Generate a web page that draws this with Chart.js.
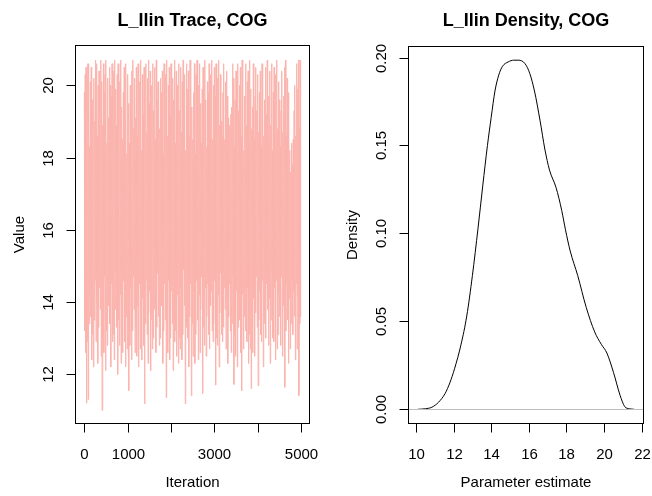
<!DOCTYPE html>
<html>
<head>
<meta charset="utf-8">
<script src="https://cdn.jsdelivr.net/npm/chart.js@4"></script>
<style>
  html, body { margin: 0; padding: 0; background: #ffffff; }
  #wrap { position: relative; width: 652px; height: 496px; }
  canvas { position: absolute; left: 0; top: 0; }
</style>
</head>
<body>
<div id="wrap">
  <canvas id="trace" width="652" height="496"></canvas>
  <canvas id="density" width="652" height="496"></canvas>
</div>
<script>
// ---- Trace panel data (thinned: one value every traceThin iterations) ----
const traceThin = 10;
const traceValues = [
  19.8,13.2,20.3,12.6,20.5,11.2,19.9,12.9,20.6,11.3,20.6,13.4,18.3,14.2,20.1,13.6,20.5,12.4,19.6,13.1,
  18.8,12.2,20.2,13.5,19.0,14.6,20.7,12.9,20.6,14.0,18.6,12.3,20.0,13.3,20.4,14.4,19.3,13.8,20.7,12.5,
  20.1,11.0,18.9,13.0,20.6,12.6,19.8,14.7,20.3,12.1,20.7,13.2,18.4,12.8,20.2,13.9,19.1,14.3,20.5,13.4,
  20.0,12.2,19.7,14.5,20.6,12.9,18.2,13.1,20.4,12.4,20.7,13.8,19.9,14.8,18.9,13.3,20.3,12.0,20.6,13.5,
  18.7,12.8,20.1,14.2,20.7,12.3,19.4,13.7,18.5,12.6,19.8,14.6,20.5,12.9,19.0,12.2,20.6,13.6,18.1,12.7,
  20.3,13.1,19.5,11.55,18.4,12.8,20.0,14.4,19.3,12.4,20.4,13.2,20.7,14.7,18.8,13.8,20.2,12.6,19.1,13.3,
  20.5,12.5,18.6,13.9,20.6,12.2,19.4,14.5,20.1,12.7,20.7,13.6,18.2,12.4,20.3,14.1,19.2,12.8,20.5,11.18,
  19.8,13.4,20.6,14.6,18.7,13.1,20.2,12.3,20.7,13.7,19.5,14.3,20.4,12.1,18.3,13.5,20.0,12.7,20.6,13.0,
  19.3,14.4,20.5,13.8,18.5,12.6,20.7,13.3,19.6,14.8,20.1,13.6,19.4,12.8,18.8,13.0,20.2,14.2,19.8,13.9,
  20.4,12.3,18.1,13.2,20.6,14.5,19.7,13.5,20.3,11.35,20.7,13.1,18.6,12.6,20.0,14.6,20.5,12.4,19.2,13.0,
  20.6,14.3,18.9,13.4,20.2,12.1,19.6,14.7,20.7,12.9,18.4,13.2,20.4,12.5,20.0,14.2,18.8,12.3,20.6,13.0,
  19.3,12.7,20.5,14.4,18.7,12.4,20.1,13.1,20.7,14.9,19.5,13.9,20.3,11.18,18.2,13.3,20.6,14.1,19.9,13.0,
  20.4,12.2,18.6,13.6,20.7,14.5,20.2,11.4,19.4,13.4,18.5,12.5,19.8,14.3,20.6,12.3,18.1,13.1,20.3,14.6,
  20.7,13.5,18.7,12.4,20.0,14.2,20.6,12.6,19.5,13.8,18.4,14.7,19.9,11.47,20.5,13.3,18.9,12.8,20.7,14.4,
  19.6,12.5,18.3,13.6,20.1,14.5,19.8,13.1,20.6,12.7,18.8,13.9,20.3,14.3,20.7,13.2,18.5,12.9,20.0,13.4,
  20.5,14.6,19.7,11.7,20.6,13.0,18.4,12.8,20.2,14.2,20.7,12.2,18.9,13.7,20.3,14.8,19.0,13.1,18.6,12.9,
  19.8,13.3,20.6,14.4,18.5,13.8,20.1,12.7,20.4,14.1,19.7,12.3,19.1,13.6,18.8,14.5,18.9,13.2,19.2,12.6,
  19.4,13.4,20.6,14.7,20.2,11.72,18.3,13.1,19.6,12.5,20.4,14.3,18.7,12.2,20.6,13.3,19.3,14.6,20.0,13.5,
  20.5,12.6,18.6,11.54,20.7,14.2,19.5,12.7,18.2,13.6,19.7,14.8,20.6,13.2,18.9,12.9,20.1,14.4,20.4,12.3,
  18.4,13.1,20.7,12.7,19.9,11.6,18.8,14.5,19.4,12.6,20.6,14.1,18.5,12.5,19.7,13.7,20.5,14.7,19.3,13.3,
  20.3,11.68,18.7,13.5,19.8,14.3,20.4,13.1,18.3,12.9,20.6,14.6,19.9,12.2,18.6,13.4,19.6,14.2,20.5,13.0,
  19.2,14.5,20.7,13.8,18.4,12.8,19.7,14.1,20.4,12.3,18.9,13.5,20.6,14.8,18.2,13.0,19.8,12.9,20.5,14.4,
  18.5,12.4,20.3,14.6,20.7,12.7,18.8,13.1,20.1,14.3,19.6,13.6,18.3,12.8,19.3,14.7,20.4,12.5,18.7,13.9,
  19.7,14.2,20.5,11.64,20.7,13.2,18.6,14.5,20.2,13.5,19.8,12.3,19.0,14.1,18.2,12.7,17.6,13.4,18.4,14.6,
  17.8,13.1,18.5,14.3,19.3,13.6,20.0,12.4,18.6,14.5,20.6,12.7,19.9,14.2,20.7,11.41,18.8,13.4,20.7,13.6
];
const traceXTicks = [0, 1000, 2000, 3000, 4000, 5000];
const traceXTickLabels = ['0', '1000', '', '3000', '', '5000'];
const traceYTicks = [12, 14, 16, 18, 20];
const traceYTickLabels = ['12', '14', '16', '18', '20'];

// ---- Density panel data ----
const densityX = [10.1, 10.5, 10.85, 11.2, 11.55, 11.8, 12.05, 12.4, 12.7, 13.0, 13.3, 13.55, 13.8, 14.0, 14.2, 14.4, 14.6, 14.9, 15.2, 15.45, 15.8, 16.05, 16.3, 16.6, 16.85, 17.1, 17.45, 17.75, 17.95, 18.2, 18.6, 19.05, 19.5, 19.85, 20.15, 20.5, 20.85, 21.1, 21.35, 21.6];
const densityY = [0, 0.0003, 0.0012, 0.004, 0.009, 0.015, 0.023, 0.037, 0.053, 0.076, 0.103, 0.127, 0.150, 0.166, 0.181, 0.190, 0.195, 0.1975, 0.1985, 0.1985, 0.1965, 0.191, 0.181, 0.164, 0.148, 0.136, 0.126, 0.113, 0.102, 0.090, 0.076, 0.058, 0.044, 0.037, 0.032, 0.021, 0.008, 0.0015, 0.0003, 0];
const densityXTicks = [10, 12, 14, 16, 18, 20, 22];
const densityXTickLabels = ['10', '12', '14', '16', '18', '20', '22'];
const densityYTicks = [0, 0.05, 0.10, 0.15, 0.20];
const densityYTickLabels = ['0.00', '0.05', '0.10', '0.15', '0.20'];

const FONT = '"Liberation Sans", Arial, Helvetica, sans-serif';

function makeRPlot(cfg) {
  return {
    id: 'rPlot',
    afterDatasetsDraw(chart) {
      const ctx = chart.ctx;
      const a = chart.chartArea;
      const xs = chart.scales.x, ys = chart.scales.y;
      ctx.save();
      if (cfg.hline !== undefined) {
        const hy = Math.round(ys.getPixelForValue(cfg.hline)) + 0.5;
        ctx.strokeStyle = '#BEBEBE';
        ctx.lineWidth = 1;
        ctx.beginPath();
        ctx.moveTo(a.left, hy);
        ctx.lineTo(a.right, hy);
        ctx.stroke();
      }
      ctx.strokeStyle = '#000000';
      ctx.lineWidth = 1;
      ctx.strokeRect(a.left - 0.5, a.top - 0.5, (a.right - a.left) + 1, (a.bottom - a.top) + 1);
      const by = a.bottom + 0.5;
      const xp = cfg.xTicks.map(v => Math.round(xs.getPixelForValue(v)) + 0.5);
      ctx.beginPath();
      ctx.moveTo(xp[0], by); ctx.lineTo(xp[xp.length - 1], by);
      xp.forEach(p => { ctx.moveTo(p, by); ctx.lineTo(p, by + 9); });
      ctx.stroke();
      ctx.fillStyle = '#000000';
      ctx.font = '15px ' + FONT;
      ctx.textAlign = 'center';
      ctx.textBaseline = 'alphabetic';
      cfg.xTickLabels.forEach((t, i) => { if (t) ctx.fillText(t, xp[i], a.bottom + 35.5); });
      const lx = a.left - 0.5;
      const yp = cfg.yTicks.map(v => Math.round(ys.getPixelForValue(v)) + 0.5);
      ctx.beginPath();
      ctx.moveTo(lx, yp[0]); ctx.lineTo(lx, yp[yp.length - 1]);
      yp.forEach(p => { ctx.moveTo(lx, p); ctx.lineTo(lx - 9, p); });
      ctx.stroke();
      cfg.yTickLabels.forEach((t, i) => {
        ctx.save();
        ctx.translate(a.left - 23, yp[i]);
        ctx.rotate(-Math.PI / 2);
        ctx.fillText(t, 0, 0);
        ctx.restore();
      });
      const cx = (a.left + a.right) / 2;
      const cy = (a.top + a.bottom) / 2;
      ctx.fillText(cfg.xTitle, cx, 486.5);
      ctx.save();
      ctx.translate(a.left - 52, cy);
      ctx.rotate(-Math.PI / 2);
      ctx.fillText(cfg.yTitle, 0, 0);
      ctx.restore();
      ctx.font = 'bold 18px ' + FONT;
      ctx.fillText(cfg.title, cx, 26);
      ctx.restore();
    }
  };
}

function baseOptions(pad, xmin, xmax, ymin, ymax) {
  return {
    responsive: false,
    animation: false,
    events: [],
    layout: { padding: pad },
    plugins: { legend: { display: false }, tooltip: { enabled: false }, title: { display: false } },
    scales: {
      x: { type: 'linear', min: xmin, max: xmax, display: false },
      y: { type: 'linear', min: ymin, max: ymax, display: false }
    },
    elements: { point: { radius: 0 } }
  };
}

new Chart(document.getElementById('trace'), {
  type: 'line',
  data: {
    datasets: [{
      data: traceValues.map((v, i) => ({ x: 1 + i * traceThin, y: v })),
      borderColor: '#FBB4AE',
      borderWidth: 1,
      tension: 0,
      pointRadius: 0,
      fill: false
    }]
  },
  options: baseOptions({ left: 76, top: 46, right: 652 - 309, bottom: 496 - 423 }, -191, 5185, 10.65, 21.09),
  plugins: [makeRPlot({
    title: 'L_Ilin Trace, COG', xTitle: 'Iteration', yTitle: 'Value',
    xTicks: traceXTicks, xTickLabels: traceXTickLabels,
    yTicks: traceYTicks, yTickLabels: traceYTickLabels
  })]
});

new Chart(document.getElementById('density'), {
  type: 'line',
  data: {
    datasets: [{
      data: densityX.map((x, i) => ({ x: x, y: densityY[i] })),
      borderColor: '#000000',
      borderWidth: 1,
      cubicInterpolationMode: 'monotone',
      pointRadius: 0,
      fill: false
    }]
  },
  options: baseOptions({ left: 409, top: 47, right: 652 - 643, bottom: 496 - 423 }, 9.63, 22.07, -0.0078, 0.206),
  plugins: [makeRPlot({
    title: 'L_Ilin Density, COG', xTitle: 'Parameter estimate', yTitle: 'Density',
    hline: 0,
    xTicks: densityXTicks, xTickLabels: densityXTickLabels,
    yTicks: densityYTicks, yTickLabels: densityYTickLabels
  })]
});
</script>
</body>
</html>
